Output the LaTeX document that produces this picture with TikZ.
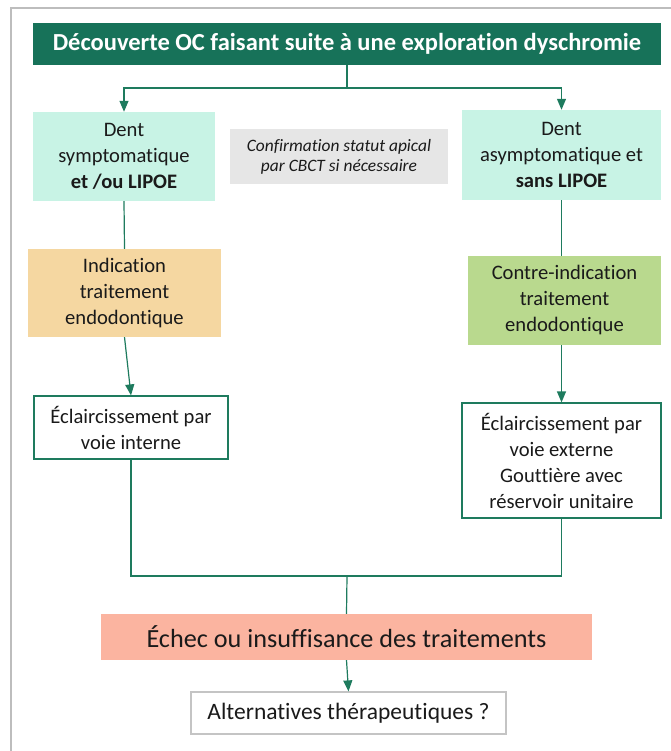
\documentclass[tikz,border=0pt]{standalone}
\usepackage{fontspec}
\setmainfont{Carlito}[Ligatures=NoCommon]
\usetikzlibrary{arrows.meta}
\definecolor{dkgreen}{HTML}{177259}
\definecolor{lnk}{HTML}{1E7B5E}
\definecolor{mint}{HTML}{C8F3E5}
\definecolor{lgray}{HTML}{E6E6E6}
\definecolor{orng}{HTML}{F5D7A1}
\definecolor{lgreen}{HTML}{B9D98E}
\definecolor{salmon}{HTML}{FBB4A0}
\definecolor{frame}{HTML}{BDBDBD}
\definecolor{altb}{HTML}{C4C4C4}
\definecolor{txt}{HTML}{1A1A1A}
\tikzset{
  box/.style={rectangle, inner sep=0pt, align=center, text=txt,
    font=\fontsize{20.6}{26}\selectfont},
  link/.style={draw=lnk, line width=1.2pt},
  arr/.style={link, -{Triangle[width=9pt,length=11pt]}},
}
\begin{document}
\begin{tikzpicture}[x=1pt,y=-1pt]
\useasboundingbox (0,0) rectangle (670,751);
\draw[frame, line width=2pt] (11,760) -- (11,8) -- (680,8);

\node[box, fill=dkgreen, text=white, minimum width=628pt, minimum height=42pt,
  font=\fontsize{24.5}{28}\selectfont\bfseries] (title) at (347,44)
  {Découverte OC faisant suite à une exploration dyschromie};

\node[box, fill=mint, minimum width=182pt, minimum height=89pt] (lm) at (124,156.5)
  {Dent\\symptomatique\\\textbf{et /ou LIPOE}};
\node[box, fill=lgray, minimum width=218pt, minimum height=55pt,
  font=\fontsize{17.4}{20}\selectfont\itshape] (gray) at (339,156.5)
  {Confirmation statut apical\\par CBCT si nécessaire};
\node[box, fill=mint, minimum width=199pt, minimum height=90pt] (rm) at (561.5,155)
  {Dent\\asymptomatique et\\\textbf{sans LIPOE}};

\node[box, fill=orng, minimum width=193pt, minimum height=88pt] (or) at (124.5,293)
  {Indication\\traitement\\endodontique};
\node[box, fill=lgreen, minimum width=193pt, minimum height=89pt] (gr) at (564.5,300.5)
  {Contre-indication\\traitement\\endodontique};

\node[box, draw=lnk, line width=1.2pt, minimum width=194pt, minimum height=63pt] (wl) at (131,427.5)
  {Éclaircissement par\\voie interne};
\node[box, draw=lnk, line width=1.2pt, minimum width=199pt, minimum height=115pt] (wr) at (561.5,460.5)
  {Éclaircissement par\\voie externe\\Gouttière avec\\réservoir unitaire};

\node[box, fill=salmon, minimum width=491pt, minimum height=46pt,
  font=\fontsize{26.2}{30}\selectfont] (sal) at (346.5,637)
  {Échec ou insuffisance des traitements};
\node[box, draw=altb, line width=1.2pt, minimum width=315pt, minimum height=42pt,
  font=\fontsize{23.5}{28}\selectfont] (alt) at (348.5,713)
  {Alternatives thérapeutiques ?};

\coordinate (jt) at (347,88);
\coordinate (jb) at (347,576);

\draw[link] (title.south) -- (jt);
\draw[arr] (jt) -| (lm.north);
\draw[arr] (jt) -| (rm.north);
\draw[link] (lm.south) -- (or.north);
\draw[arr] (or.south) -- (wl.north);
\draw[link] (rm.south) -- (rm.south |- gr.north);
\draw[arr] (wr.north |- gr.south) -- (wr.north);
\draw[link] (wl.south) |- (jb) -| (wr.south);
\draw[link] (jb) -- (sal.north);
\draw[arr] (sal.south) -- (alt.north);
\end{tikzpicture}
\end{document}
